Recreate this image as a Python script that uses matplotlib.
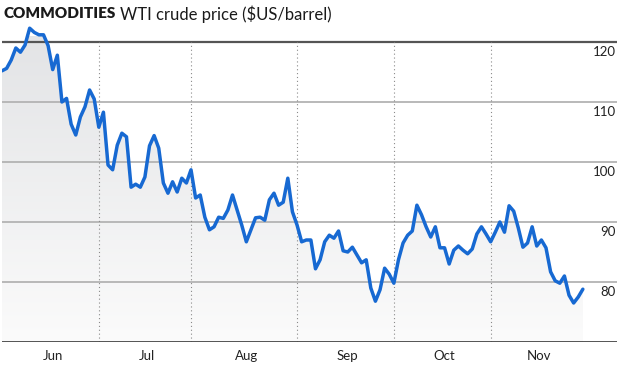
import numpy as np
import matplotlib
matplotlib.use('Agg')
import matplotlib.pyplot as plt
from matplotlib.colors import LinearSegmentedColormap

# Data: WTI daily closes, 31 May .. 29 Nov (trading-day index)
price_jun = [115.2, 115.6, 117.0, 119.0, 118.3, 119.5, 122.3, 121.6, 121.2, 121.2, 119.4,
             115.4, 117.8, 110.0, 110.6, 106.3, 104.5, 107.5, 109.2, 112.0, 110.5, 105.8]
price_jul = [108.3, 99.5, 98.7, 102.8, 104.8, 104.2, 95.8, 96.3, 95.8, 97.5,
             102.7, 104.4, 102.3, 96.5, 94.8, 96.7, 95.0, 97.3, 96.5, 98.7]
price_aug = [94.0, 94.5, 90.8, 88.7, 89.2, 90.8, 90.6, 92.0, 94.5, 92.0, 89.5, 86.7,
             88.7, 90.7, 90.8, 90.3, 93.7, 94.8, 92.8, 93.3, 97.3, 91.7, 89.5]
price_sep = [86.7, 87.0, 87.0, 82.2, 83.7, 86.7, 87.8, 87.3, 88.5, 85.2, 85.0,
             85.8, 84.5, 83.2, 83.7, 79.0, 76.8, 78.7, 82.3, 81.3, 79.8]
price_oct = [83.7, 86.5, 87.8, 88.5, 92.8, 91.2, 89.2, 87.5, 89.2, 85.7, 85.7,
             83.0, 85.3, 86.0, 85.3, 84.7, 85.5, 88.0, 89.2, 88.0, 86.7]
price_nov = [88.3, 90.0, 88.3, 92.7, 91.8, 89.0, 85.8, 86.5, 89.2, 86.0,
             87.0, 85.7, 81.7, 80.2, 79.8, 81.0, 77.8, 76.5, 77.5, 78.8]

month_labels = ['Jun', 'Jul', 'Aug', 'Sep', 'Oct', 'Nov']
month_series = [price_jun, price_jul, price_aug, price_sep, price_oct, price_nov]
y_ticks = [80, 90, 100, 110, 120]

# Build series on a trading-day index
prices = np.array(sum(month_series, []))
x_idx = np.arange(len(prices))

month_end = np.cumsum([len(m) for m in month_series]) - 1   # last trading day of each month
month_start = np.concatenate([[1], month_end[:-1] + 1])      # first day of June is index 1
month_mid = (month_start + month_end) / 2.0

line_color = '#1769d2'
fig = plt.figure(figsize=(6.2, 3.66), dpi=100)
fig.patch.set_facecolor('white')

px_w, px_h = 620.0, 366.0
y_min, y_max = 70.0, 124.5
ax = fig.add_axes([2 / px_w, 24 / px_h, 615 / px_w, (342 - 15) / px_h])
ax.patch.set_visible(False)
for sp in ax.spines.values():
    sp.set_visible(False)
ax.set_xticks([])
ax.set_yticks([])

# Gradient fill under the line
grad_cmap = LinearSegmentedColormap.from_list('g', ['#fbfbfb', '#e3e4e6'])
grad = np.linspace(0, 1, 256).reshape(-1, 1)
img = ax.imshow(grad, extent=[x_idx[0], x_idx[-1], y_min, 121], origin='lower',
                aspect='auto', cmap=grad_cmap, zorder=1)
poly = ax.fill_between(x_idx, prices, y_min, color='none', lw=0)
img.set_clip_path(poly.get_paths()[0], transform=ax.transData)
ax.set_xlim(0, 615 / 4.61)
ax.set_ylim(y_min, y_max)

# Horizontal gridlines
for v in y_ticks:
    if v == 120:
        ax.axhline(v, color='#555555', lw=1.6, zorder=2)
    else:
        ax.axhline(v, color='#b3b3b3', lw=1.3, zorder=2)
ax.axhline(y_min, color='#444444', lw=2.0, zorder=4)

# Month dividers
for me in month_end[:-1]:
    ax.plot([me, me], [y_min, 120], color='#8a8a8a', lw=0.8,
            linestyle=(0, (1, 2.5)), zorder=2)

# Price line
ax.plot(x_idx, prices, color=line_color, lw=2.5, zorder=5,
        solid_joinstyle='round', solid_capstyle='round')

# Right-side value labels, just below each gridline
trans = ax.get_yaxis_transform()
for v in y_ticks:
    ax.text(0.9985, v - 1.6, str(v), transform=trans, ha='right', va='center',
            fontsize=9.5, family='Lato', color='#222222', zorder=6)

# Month labels
for lbl, xm in zip(month_labels, month_mid):
    ax.text(xm, y_min - 2.4, lbl, ha='center', va='center', fontsize=9.5,
            family='Lato', color='#222222', clip_on=False)

# Title: bold lead-in, then the regular part placed right after it
t_bold = fig.text(4 / px_w, 1 - 14 / px_h, 'COMMODITIES', fontsize=11, family='Lato',
                  fontweight='heavy', color='#1a1a1a', ha='left', va='center')
fig.canvas.draw()
bb = t_bold.get_window_extent(renderer=fig.canvas.get_renderer())
fig.text((bb.x1 + 4) / px_w, 1 - 14 / px_h, 'WTI crude price ($US/barrel)', fontsize=12,
         family='Lato', color='#1a1a1a', ha='left', va='center')

fig.savefig('out.png', dpi=100, facecolor='white')
